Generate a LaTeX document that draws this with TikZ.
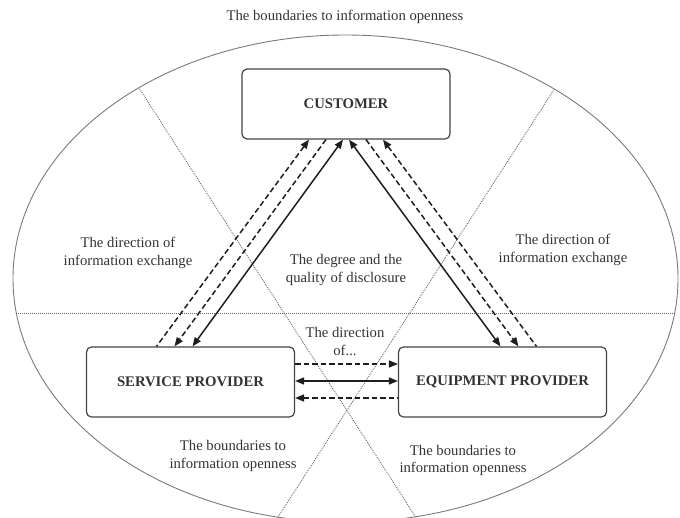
\documentclass[tikz,border=0pt]{standalone}
\usepackage{fontspec}
\setmainfont{Liberation Serif}
\usetikzlibrary{arrows.meta,calc}
\definecolor{txt}{HTML}{333333}
\definecolor{ln}{HTML}{1E1E1E}
\definecolor{boxc}{HTML}{444444}
\definecolor{bnd}{HTML}{7A7A7A}
\definecolor{dotc}{HTML}{666666}
\begin{document}
\begin{tikzpicture}[x=1pt,y=-1pt,
  every node/.style={text=txt, font=\fontsize{14.7}{17.5}\selectfont},
  actor/.style={draw=boxc, line width=1.2pt, rounded corners=5pt,
    minimum width=208pt, minimum height=70pt, inner sep=0pt,
    font=\fontsize{14.7}{17.5}\selectfont\bfseries},
  lbl/.style={align=center, inner sep=0pt},
  flow/.style={line width=1.5pt, draw=ln},
  dflow/.style={flow, dash pattern=on 5.5pt off 3pt},
  fwd/.style={-{Triangle[length=9pt,width=7pt]}},
  bwd/.style={{Triangle[length=9pt,width=7pt]}-},
  bi/.style={{Triangle[length=9pt,width=7pt]}-{Triangle[length=9pt,width=7pt]}},
  boundary/.style={draw=bnd, line width=0.9pt},
  bdot/.style={draw=dotc, line width=0.9pt, dash pattern=on 0.9pt off 1.1pt}
]
\useasboundingbox (0,0) rectangle (680,517);
\begin{scope}
  \clip (0,0) rectangle (680,517);
  \draw[boundary] (345.5,278.6) ellipse [x radius=332.5, y radius=243.6];
  \begin{scope}
    \clip (345.5,278.6) ellipse [x radius=332.5, y radius=243.6];
    \draw[bdot] (0,313) -- (680,313);
    \draw[bdot] (111.4,45.2) -- (442.6,558.8);
    \draw[bdot] (582.7,45.1) -- (250.3,559.9);
  \end{scope}
\end{scope}

\node (title) at (345,17) {The boundaries to information openness};

\node[actor] (cust) at (346,104) {CUSTOMER};
\node[actor] (sp) at (190.5,382) {SERVICE PROVIDER};
\node[actor] (ep) at (502.5,382) {EQUIPMENT PROVIDER};

\node[lbl] (lex) at (128,253) {The direction of\\information exchange};
\node[lbl] (rex) at (563,250) {The direction of\\information exchange};
\node[lbl] (deg) at (346,270) {The degree and the\\quality of disclosure};
\node[lbl] (dir) at (345,341.5) {The direction\\of...};
\node[lbl] (lb) at (233,456) {The boundaries to\\information openness};
\node[lbl] (rb) at (463,460.5) {The boundaries to\\information openness};

\draw[dflow,bwd] ($(cust.south)+(-37,0)$) -- ($(sp.north)+(-34,0)$);
\draw[dflow,fwd] ($(cust.south)+(-20,0)$) -- ($(sp.north)+(-16,0)$);
\draw[flow,bi]   ($(cust.south)+(-3,0)$)  -- ($(sp.north)+(2,0)$);
\draw[flow,bi]   ($(cust.south)+(3,0)$)   -- ($(ep.north)+(-2,0)$);
\draw[dflow,fwd] ($(cust.south)+(20,0)$)  -- ($(ep.north)+(16,0)$);
\draw[dflow,bwd] ($(cust.south)+(37,0)$)  -- ($(ep.north)+(34,0)$);

\draw[dflow,fwd] ($(sp.east)+(0,-18)$) -- ($(ep.west)+(0,-18)$);
\draw[flow,bi]   ($(sp.east)+(0,-1)$)  -- ($(ep.west)+(0,-1)$);
\draw[dflow,bwd] ($(sp.east)+(0,16)$)  -- ($(ep.west)+(0,16)$);
\end{tikzpicture}
\end{document}
